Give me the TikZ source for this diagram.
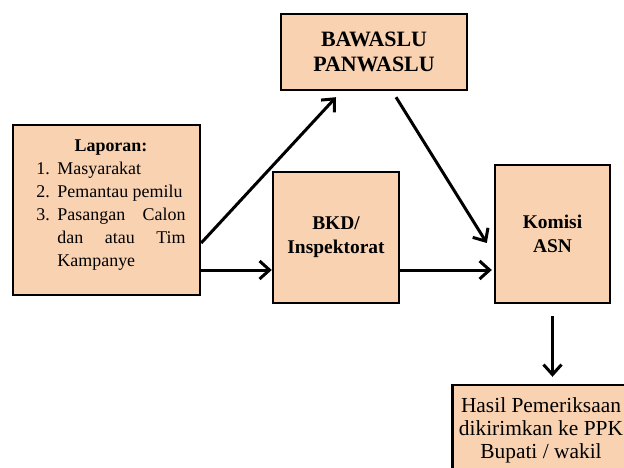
\documentclass[tikz,border=0pt]{standalone}
\usepackage{fontspec}
\setmainfont{Liberation Serif}
\usepackage{xcolor}
\usepackage{tikz}
\usetikzlibrary{arrows, arrows.meta}
\definecolor{peach}{HTML}{F9D2B2}

\begin{document}
\begin{tikzpicture}[x=1bp,y=-1bp,
  box/.style={draw=black,line width=2.4bp,fill=peach,align=center,inner sep=0pt},
  arr/.style={line width=3bp,-{Straight Barb[length=10bp,width=18bp,line width=3bp]}}]
\useasboundingbox (0,0) rectangle (624,468);
\node[box,minimum width=187bp,minimum height=170bp] (lapor) at (106.5,210) {%
  \hspace*{9bp}\parbox{149bp}{\fontsize{18}{23}\selectfont
  \centering\textbf{Laporan:}\par
  \raggedright
  \hangindent=21bp\hangafter=1\makebox[21bp][l]{1.}Masyarakat\par
  \hangindent=21bp\hangafter=1\makebox[21bp][l]{2.}Pemantau pemilu\par
  \leftskip=0pt\rightskip=0pt\parfillskip=0pt plus 1fil
  \hangindent=21bp\hangafter=1\makebox[21bp][l]{3.}Pasangan Calon dan atau Tim Kampanye\par
  \vspace{10bp}}};
\node[box,minimum width=186bp,minimum height=76bp,font=\fontsize{22}{25}\selectfont\bfseries] (bawas) at (374,52) {BAWASLU\\PANWASLU};
\node[box,minimum width=126bp,minimum height=131bp,font=\fontsize{19.5}{24}\selectfont\bfseries] (bkd) at (336,237.5) {BKD/\\Inspektorat};
\node[box,minimum width=115bp,minimum height=138bp,font=\fontsize{19.5}{24}\selectfont\bfseries] (komisi) at (552.5,234) {Komisi\\ASN};
\node[box,minimum width=177bp,minimum height=90bp,font=\fontsize{21.5}{23}\selectfont] (hasil) at (541,430) {Hasil Pemeriksaan\\dikirimkan ke PPK\\Bupati / wakil};
\coordinate (lowout) at ([yshift=-60bp]lapor.east);
\coordinate (midout) at ([yshift=-32.5bp]bkd.east);
\draw[arr] ([yshift=-33bp]lapor.east) -- ([xshift=-38bp,yshift=-6bp]bawas.south);
\draw[arr] (lowout) -- (lowout -| bkd.west);
\draw[arr] ([xshift=22bp,yshift=-6bp]bawas.south) -- ([xshift=-7bp,yshift=-9bp]komisi.west);
\draw[arr,shorten >=2bp] (midout) -- (midout -| komisi.west);
\draw[arr,shorten <=12bp,shorten >=7bp] (komisi.south) -- (komisi.south |- hasil.north);
\end{tikzpicture}
\end{document}
